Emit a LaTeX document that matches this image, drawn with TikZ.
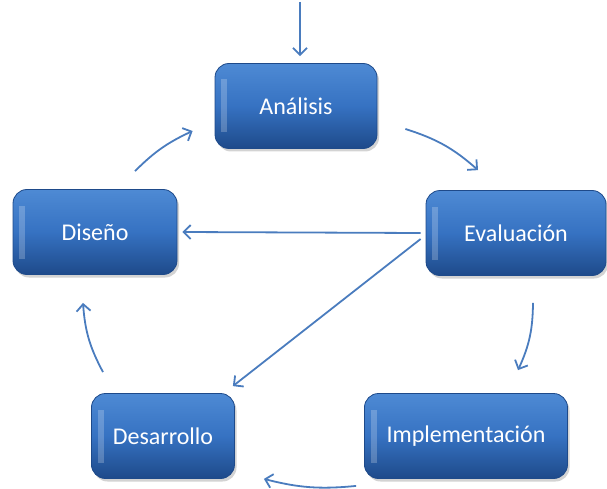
\documentclass[tikz,border=0pt]{standalone}
\usepackage{fontspec}
\setmainfont{Carlito}
\usetikzlibrary{arrows.meta,shadows}
\definecolor{boxtop}{RGB}{78,138,212}
\definecolor{boxmid}{RGB}{54,114,194}
\definecolor{boxbot}{RGB}{30,74,138}
\definecolor{arr}{RGB}{74,124,190}
\begin{document}
\begin{tikzpicture}[x=1pt,y=-1pt,
  stagebox/.style={rounded corners=14pt, top color=boxtop, bottom color=boxbot, middle color=boxmid,
    draw=boxbot, line width=0.8pt, text=white, font=\fontsize{24}{28}\selectfont,
    minimum height=85pt, inner sep=0pt,
    drop shadow={opacity=0.35, shadow xshift=2pt, shadow yshift=-3pt},
    path picture={\fill[white,opacity=0.22,draw=none,rounded corners=0pt] ([xshift=6pt,yshift=-16pt]path picture bounding box.north west) rectangle ([xshift=12pt,yshift=16pt]path picture bounding box.south west);}},
  flow/.style={draw=arr, line width=1.8pt, -{Straight Barb[length=7pt,width=14pt]}}]
\useasboundingbox (0,0) rectangle (607,489);
\node[stagebox, minimum width=162pt] (ana) at (296,106) {Análisis};
\node[stagebox, minimum width=164pt] (dis) at (95,232) {Diseño};
\node[stagebox, minimum width=180pt] (eva) at (516,233) {Evaluación};
\node[stagebox, minimum width=143pt] (des) at (163,436) {Desarrollo};
\node[stagebox, minimum width=203pt] (imp) at (466,436) {Implementación};
\coordinate (topin) at (300,2);
\draw[flow] (topin) -- ([xshift=4pt,yshift=7pt]ana.north);
\draw[flow] ([xshift=40pt,yshift=18pt]dis.north) to[bend left=10] ([xshift=-22pt,yshift=-25pt]ana.west);
\draw[flow] ([xshift=28pt,yshift=-23pt]ana.east) to[bend left=12] ([xshift=-38pt,yshift=20pt]eva.north);
\draw[flow] ([xshift=17pt,yshift=-27pt]eva.south) to[bend left=12] ([xshift=52pt,yshift=23pt]imp.north);
\draw[flow] ([xshift=-8pt,yshift=-7pt]imp.south west) to[bend left=10] ([xshift=29pt,yshift=0pt]des.south east);
\draw[flow] ([xshift=-60pt,yshift=21pt]des.north) to[bend left=12] ([xshift=-12pt,yshift=-28pt]dis.south);
\draw[flow] ([xshift=-5pt]eva.west) -- ([xshift=5pt]dis.east);
\draw[flow] ([xshift=-5pt,yshift=-6pt]eva.west) -- ([xshift=-2pt,yshift=7pt]des.north east);
\end{tikzpicture}
\end{document}
